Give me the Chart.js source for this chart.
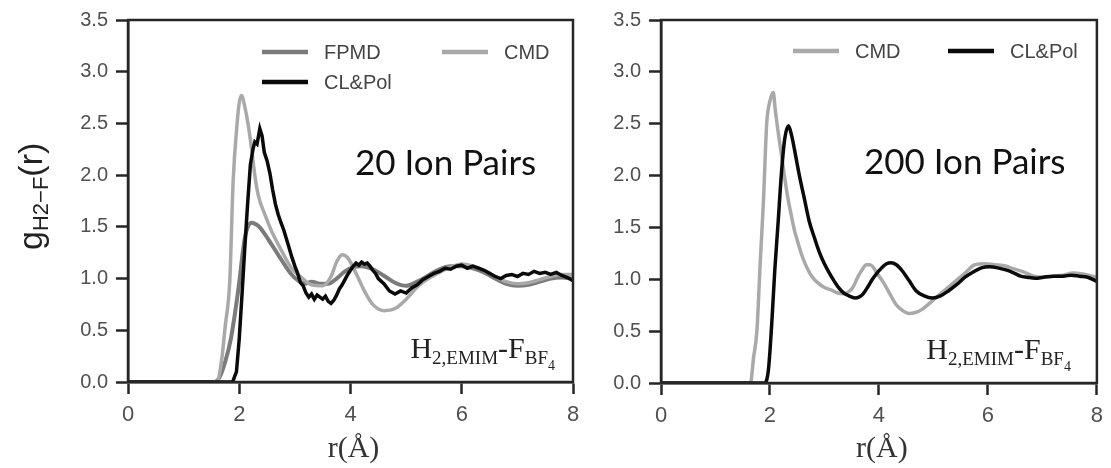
<!DOCTYPE html>
<html>
<head>
<meta charset="utf-8">
<script src="https://cdn.jsdelivr.net/npm/chart.js@4.4.0/dist/chart.umd.min.js"></script>
<style>
html, body { margin: 0; padding: 0; background: #fff; }
#wrap { position: relative; width: 1111px; height: 468px; overflow: hidden; }
.panel { position: absolute; top: 0; height: 468px; }
</style>
</head>
<body>
<div id="wrap">
  <div class="panel" style="left:0;width:590px"><canvas id="leftChart"></canvas></div>
  <div class="panel" style="left:590px;width:521px"><canvas id="rightChart"></canvas></div>
</div>
<script>
// ===== data: r (Å) and g(r) =====
const xTicks = [0, 2, 4, 6, 8];
const yTicks = [0, 0.5, 1.0, 1.5, 2.0, 2.5, 3.0, 3.5];

// 20 ion pairs
const r20Fpmd = [0, 1.55, 1.65, 1.75, 1.85, 1.98, 2.1, 2.22, 2.34, 2.46, 2.58, 2.7, 2.82, 2.94, 3.06, 3.18, 3.3, 3.45, 3.6, 3.75, 3.9, 4.05, 4.2, 4.35, 4.5, 4.65, 4.8, 5.0, 5.2, 5.4, 5.6, 5.8, 6.0, 6.2, 6.4, 6.6, 6.8, 7.0, 7.2, 7.4, 7.6, 7.8, 8.0];
const g20Fpmd = [0, 0, 0.05, 0.2, 0.42, 0.88, 1.39, 1.54, 1.51, 1.43, 1.33, 1.23, 1.13, 1.04, 0.98, 0.95, 0.97, 0.95, 0.95, 1.0, 1.07, 1.11, 1.12, 1.1, 1.06, 1.01, 0.96, 0.93, 0.97, 1.03, 1.09, 1.12, 1.12, 1.1, 1.06, 1.0, 0.95, 0.93, 0.94, 0.97, 1.0, 1.01, 1.0];

const r20Cmd = [0, 1.6, 1.68, 1.75, 1.83, 1.89, 1.96, 2.0, 2.04, 2.1, 2.16, 2.22, 2.28, 2.34, 2.46, 2.58, 2.76, 2.94, 3.1, 3.3, 3.5, 3.65, 3.75, 3.85, 3.95, 4.1, 4.25, 4.4, 4.6, 4.8, 5.0, 5.2, 5.4, 5.6, 5.8, 6.0, 6.2, 6.4, 6.6, 6.8, 7.0, 7.2, 7.4, 7.6, 7.8, 8.0];
const g20Cmd = [0, 0, 0.2, 0.55, 0.98, 1.94, 2.49, 2.7, 2.77, 2.66, 2.49, 2.26, 2.0, 1.81, 1.62, 1.46, 1.27, 1.1, 1.02, 0.94, 0.93, 1.02, 1.16, 1.23, 1.2, 1.05, 0.88, 0.75, 0.69, 0.71, 0.8, 0.92, 1.0, 1.06, 1.11, 1.14, 1.12, 1.08, 1.02, 0.97, 0.95, 0.96, 0.99, 1.02, 1.04, 1.04];

const r20Pol = [0, 1.88, 1.95, 2.0, 2.05, 2.1, 2.15, 2.2, 2.25, 2.28, 2.32, 2.37, 2.41, 2.45, 2.5, 2.55, 2.6, 2.65, 2.7, 2.75, 2.8, 2.85, 2.9, 2.95, 3.0, 3.05, 3.1, 3.15, 3.2, 3.25, 3.3, 3.35, 3.4, 3.45, 3.5, 3.55, 3.6, 3.65, 3.7, 3.75, 3.8, 3.85, 3.9, 3.95, 4.0, 4.05, 4.1, 4.15, 4.2, 4.25, 4.3, 4.35, 4.4, 4.45, 4.5, 4.6, 4.7, 4.8, 4.9, 5.0, 5.1, 5.2, 5.3, 5.4, 5.5, 5.6, 5.7, 5.8, 5.9, 6.0, 6.1, 6.2, 6.3, 6.4, 6.5, 6.6, 6.7, 6.8, 6.9, 7.0, 7.1, 7.2, 7.3, 7.4, 7.5, 7.6, 7.7, 7.8, 7.9, 8.0];
const g20Pol = [0, 0, 0.1, 0.42, 0.85, 1.3, 1.72, 2.1, 2.26, 2.32, 2.3, 2.45, 2.38, 2.22, 2.14, 2.02, 1.86, 1.72, 1.62, 1.54, 1.47, 1.38, 1.29, 1.2, 1.12, 1.05, 0.96, 0.93, 0.86, 0.82, 0.85, 0.8, 0.84, 0.82, 0.8, 0.83, 0.78, 0.76, 0.79, 0.84, 0.9, 0.94, 0.99, 1.04, 1.08, 1.12, 1.15, 1.13, 1.16, 1.14, 1.15, 1.12, 1.08, 1.05, 1.0, 0.95, 0.88, 0.85, 0.88, 0.86, 0.91, 0.94, 0.99, 1.02, 1.05, 1.07, 1.1, 1.09, 1.12, 1.13, 1.1, 1.12, 1.1, 1.08, 1.05, 1.02, 1.0, 1.03, 1.04, 1.02, 1.05, 1.04, 1.07, 1.05, 1.06, 1.04, 1.06, 1.03, 1.01, 0.98];

// 200 ion pairs
const r200Cmd = [0, 1.64, 1.7, 1.76, 1.82, 1.88, 1.94, 2.0, 2.06, 2.1, 2.15, 2.21, 2.27, 2.33, 2.39, 2.45, 2.51, 2.6, 2.69, 2.78, 2.87, 3.0, 3.11, 3.23, 3.35, 3.45, 3.53, 3.62, 3.7, 3.77, 3.83, 3.89, 3.96, 4.07, 4.19, 4.31, 4.43, 4.55, 4.67, 4.79, 4.91, 5.04, 5.22, 5.4, 5.58, 5.76, 5.94, 6.12, 6.3, 6.48, 6.66, 6.84, 7.02, 7.2, 7.38, 7.56, 7.74, 8.0];
const g200Cmd = [0, 0, 0.25, 0.5, 1.15, 1.75, 2.5, 2.72, 2.8, 2.62, 2.42, 2.2, 1.98, 1.78, 1.62, 1.47, 1.36, 1.21, 1.1, 1.02, 0.97, 0.92, 0.9, 0.87, 0.86, 0.88, 0.93, 1.03, 1.1, 1.14, 1.14, 1.12, 1.06, 0.98, 0.87, 0.76, 0.7, 0.67, 0.68, 0.71, 0.76, 0.82, 0.9, 0.98, 1.06, 1.14, 1.15, 1.14, 1.13, 1.1, 1.07, 1.03, 1.02, 1.03, 1.04, 1.06, 1.05, 1.02];

const r200Pol = [0, 1.9, 1.97, 2.03, 2.09, 2.15, 2.21, 2.27, 2.34, 2.4, 2.45, 2.54, 2.63, 2.72, 2.81, 2.9, 2.99, 3.08, 3.17, 3.26, 3.35, 3.45, 3.56, 3.64, 3.71, 3.8, 3.88, 3.95, 4.05, 4.14, 4.22, 4.32, 4.43, 4.55, 4.68, 4.83, 4.98, 5.13, 5.28, 5.43, 5.58, 5.73, 5.88, 6.03, 6.18, 6.33, 6.48, 6.6, 6.72, 6.87, 7.02, 7.2, 7.38, 7.53, 7.68, 7.83, 8.0];
const g200Pol = [0, 0, 0.12, 0.55, 1.1, 1.55, 2.02, 2.35, 2.48, 2.38, 2.25, 2.0, 1.78, 1.56, 1.41, 1.27, 1.16, 1.07, 0.99, 0.92, 0.87, 0.84, 0.82, 0.83, 0.86, 0.93, 1.0, 1.05, 1.11, 1.15, 1.16, 1.14, 1.08, 0.99, 0.89, 0.84, 0.82, 0.84, 0.89, 0.95, 1.02, 1.07, 1.11, 1.12, 1.11, 1.09, 1.06, 1.03, 1.02, 1.01, 1.02, 1.03, 1.03, 1.04, 1.03, 1.02, 0.98];

const COL_FPMD = '#7b7b7b';
const COL_CMD = '#a9a9a9';
const COL_POL = '#0a0a0a';

const pts = (r, g) => r.map((x, i) => ({ x, y: g[i] }));

const SANS = '"Liberation Sans", Arial, sans-serif';
const SERIF = '"Liberation Serif", "DejaVu Serif", serif';

// ===== deco plugin: frame, legend, labels =====
function drawRuns(ctx, runs, x, base) {
    runs.forEach(([txt, font, dy]) => {
        ctx.font = font;
        ctx.fillText(txt, x, base + dy);
        x += ctx.measureText(txt).width;
    });
    return x;
}
function runsWidth(ctx, runs) {
    let w = 0;
    runs.forEach(([txt, font]) => { ctx.font = font; w += ctx.measureText(txt).width; });
    return w;
}

const panelDeco = {
    id: 'panelDeco',
    afterDatasetsDraw(chart, args, opts) {
        const { ctx, chartArea: a } = chart;
        ctx.save();
        ctx.strokeStyle = '#262626';
        ctx.lineWidth = 2.5;
        ctx.strokeRect(a.left, a.top, a.right - a.left, a.bottom - a.top);

        // legend
        ctx.textBaseline = 'middle';
        ctx.textAlign = 'left';
        opts.legend.forEach(it => {
            const ds = chart.data.datasets[it.ds];
            const x = a.left + it.dx, y = a.top + it.dy;
            ctx.strokeStyle = ds.borderColor;
            ctx.lineWidth = 4.5;
            ctx.beginPath();
            ctx.moveTo(x, y);
            ctx.lineTo(x + 46, y);
            ctx.stroke();
            ctx.font = '20px ' + SANS;
            ctx.fillStyle = '#444';
            ctx.fillText(ds.label, x + 62, y + 1);
        });

        // big annotation
        ctx.textBaseline = 'alphabetic';
        ctx.font = '35px Lato, "Open Sans", sans-serif';
        ctx.fillStyle = '#111';
        ctx.fillText(opts.note, a.left + opts.noteDx, a.top + opts.noteDy);

        // species label
        const runs = [
            ['H', '30px ' + SERIF, 0],
            ['2,EMIM', '19px ' + SERIF, 6],
            ['-', '30px ' + SERIF, 0],
            ['F', '30px ' + SERIF, 0],
            ['BF', '19px ' + SERIF, 6],
            ['4', '14px ' + SERIF, 12]
        ];
        ctx.fillStyle = '#222';
        const w = runsWidth(ctx, runs);
        drawRuns(ctx, runs, a.right - opts.specDx - w, a.bottom - 24);

        // x title
        ctx.font = '30px ' + SERIF;
        ctx.textAlign = 'center';
        ctx.fillStyle = '#333';
        ctx.fillText('r(Å)', (a.left + a.right) / 2 + 3, 457);

        // y title (left panel only)
        if (opts.yTitle) {
            ctx.translate(42, 250);
            ctx.rotate(-Math.PI / 2);
            ctx.textAlign = 'left';
            ctx.fillStyle = '#222';
            drawRuns(ctx, [
                ['g', '34px ' + SANS, 0],
                ['H2\u2212F', '22px ' + SANS, 6],
                ['(r)', '34px ' + SANS, 0]
            ], 0, 0);
        }
        ctx.restore();
    }
};

function makeScales(yWidth, xHeight) {
    const grid = { display: true, drawOnChartArea: false, drawTicks: true, tickLength: 12, tickWidth: 2.5, tickColor: '#262626', color: '#262626' };
    return {
        x: {
            type: 'linear', min: 0, max: 8,
            afterBuildTicks: s => { s.ticks = xTicks.map(v => ({ value: v })); },
            ticks: { font: { family: SANS, size: 22 }, color: '#505050', padding: 8, callback: v => String(v) },
            grid,
            border: { display: true, color: '#262626', width: 2.5 },
            afterFit: s => { s.height = xHeight; }
        },
        y: {
            type: 'linear', min: 0, max: 3.5,
            afterBuildTicks: s => { s.ticks = yTicks.map(v => ({ value: v })); },
            ticks: { font: { family: SANS, size: 20 }, color: '#505050', padding: 8, callback: v => Number(v).toFixed(1) },
            grid,
            border: { display: true, color: '#262626', width: 2.5 },
            afterFit: s => { s.width = yWidth; }
        }
    };
}

function line(label, data, color, width, order, smooth) {
    return {
        label, data, borderColor: color, backgroundColor: color,
        borderWidth: width, pointRadius: 0, fill: false, order,
        cubicInterpolationMode: smooth ? 'monotone' : 'default',
        tension: smooth ? 0.4 : 0
    };
}

const common = {
    responsive: true,
    maintainAspectRatio: false,
    animation: false,
    events: [],
    plugins: { legend: { display: false }, tooltip: { enabled: false } }
};

new Chart(document.getElementById('leftChart'), {
    type: 'line',
    data: {
        datasets: [
            line('FPMD', pts(r20Fpmd, g20Fpmd), COL_FPMD, 4, 2, true),
            line('CMD', pts(r20Cmd, g20Cmd), COL_CMD, 3.5, 1, true),
            line('CL&Pol', pts(r20Pol, g20Pol), COL_POL, 3.5, 0, false)
        ]
    },
    options: {
        ...common,
        layout: { padding: { top: 18, right: 17, left: 0, bottom: 0 } },
        scales: makeScales(128, 86),
        plugins: {
            ...common.plugins,
            panelDeco: {
                legend: [{ ds: 0, dx: 134, dy: 32 }, { ds: 1, dx: 314, dy: 32 }, { ds: 2, dx: 134, dy: 62 }],
                note: '20 Ion Pairs', noteDx: 227, noteDy: 155,
                specDx: 18, yTitle: true
            }
        }
    },
    plugins: [panelDeco]
});

new Chart(document.getElementById('rightChart'), {
    type: 'line',
    data: {
        datasets: [
            line('CMD', pts(r200Cmd, g200Cmd), COL_CMD, 3.5, 1, true),
            line('CL&Pol', pts(r200Pol, g200Pol), COL_POL, 3.5, 0, true)
        ]
    },
    options: {
        ...common,
        layout: { padding: { top: 17, right: 7, left: 0, bottom: 0 } },
        scales: makeScales(71, 85),
        plugins: {
            ...common.plugins,
            panelDeco: {
                legend: [{ ds: 0, dx: 132, dy: 31 }, { ds: 1, dx: 287, dy: 31 }],
                note: '200 Ion Pairs', noteDx: 203, noteDy: 154,
                specDx: 26, yTitle: false
            }
        }
    },
    plugins: [panelDeco]
});
</script>
</body>
</html>
